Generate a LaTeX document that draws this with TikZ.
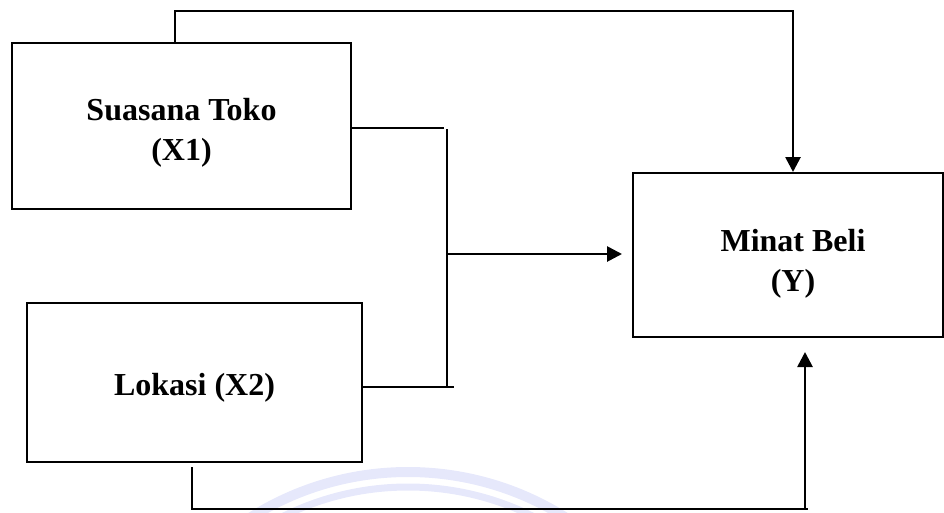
\documentclass[tikz,border=0pt]{standalone}
\usepackage{fontspec}
\setmainfont{Liberation Serif}
\usetikzlibrary{arrows.meta}
\definecolor{wmark}{RGB}{230,232,251}
\tikzset{
  varbox/.style={draw=black, line width=2pt, rectangle, inner sep=0pt},
  vartext/.style={align=center, font=\fontsize{32}{40}\selectfont\bfseries},
  link/.style={draw=black, line width=2.7pt},
  linkarrow/.style={link, -{Triangle[length=15pt,width=15pt]}},
}
\begin{document}
\begin{tikzpicture}[x=1pt,y=-1pt]
  \useasboundingbox (0,0) rectangle (944,512);

  % faint emblem behind the lower connector
  \begin{scope}
    \clip (0,0) rectangle (944,512);
    \draw[wmark, line width=10pt] (408,767) circle[radius=295];
    \draw[wmark, line width=7pt] (408,767) circle[radius=280];
  \end{scope}

  % variable boxes
  \node[varbox, minimum width=339pt, minimum height=166pt] (x1) at (181.5,126) {};
  \node[varbox, minimum width=335pt, minimum height=159pt] (x2) at (194.5,382.5) {};
  \node[varbox, minimum width=310pt, minimum height=164pt] (y)  at (788,255) {};

  \node[vartext] (x1t) at ([yshift=-7pt]x1.center) {Suasana Toko\\(X1)};
  \node[vartext] (x2t) at ([yshift=-5pt]x2.center) {Lokasi (X2)};
  \node[vartext] (yt)  at ([xshift=5pt,yshift=-9pt]y.center) {Minat Beli\\(Y)};

  % routing points
  \coordinate (t1) at (175,11);
  \coordinate (t2) at (793,11);
  \coordinate (ja) at (444,128);
  \coordinate (jb) at (447,129);
  \coordinate (jc) at (447,387);
  \coordinate (jd) at (454,387);
  \coordinate (jm) at (447,254);
  \coordinate (jt) at (622,254);
  \coordinate (b1) at (192,467);
  \coordinate (b2) at (192,509);
  \coordinate (b3) at (808,509);
  \coordinate (b4) at (805,509);
  \coordinate (b5) at (805,352);

  % X1 directly to Y
  \draw[linkarrow] (x1.north -| t1) -- (t1) -- (t2) -- (t2 |- y.north);

  % joint effect of X1 and X2 on Y
  \draw[link] (x1.east |- ja) -- (ja);
  \draw[link] (jb) -- (jc);
  \draw[link] (x2.east |- jd) -- (jd);
  \draw[linkarrow] (jm) -- (jt);

  % X2 directly to Y
  \draw[link] (b1) -- (b2) -- (b3);
  \draw[linkarrow] (b4) -- (b5);
\end{tikzpicture}
\end{document}
